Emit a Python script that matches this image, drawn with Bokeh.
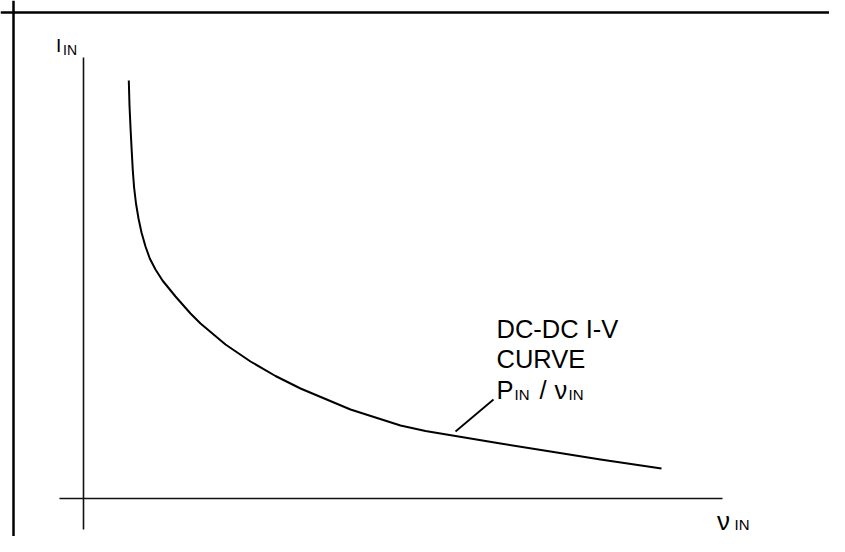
from bokeh.plotting import figure
from bokeh.models import Range1d, Span, Label
from bokeh.embed import file_html
from bokeh.resources import INLINE

# DC-DC I-V curve (I_IN = P_IN / v_IN) (arbitrary units)
v_in = [4.53, 4.6, 4.7, 4.82, 4.93, 5.06, 5.25, 5.5, 5.8, 6.2, 6.63, 7.2, 7.9,
        9.2, 10.7, 11.7, 14.2, 16.7, 19.2, 21.7, 26.7, 31.7, 34.2, 37.2, 41.7,
        46.7, 51.7, 57.8]
i_in = [41.8, 39.3, 37.1, 34.8, 32.8, 31.1, 29.5, 28.0, 26.6, 25.2, 24.0, 22.9, 21.8,
        20.2, 18.5, 17.5, 15.4, 13.7, 12.25, 11.0, 8.9, 7.3, 6.75, 6.25, 5.5,
        4.7, 3.9, 3.0]

# axis extents
v_axis = [-2.4, 63.9]
i_axis = [-3.1, 44.1]

# leader line from curve to annotation
leader_v = [37.2, 41.0]
leader_i = [6.7, 9.9]

FONT = "Liberation Sans"

p = figure(width=829, height=536, output_backend="svg", toolbar_location=None,
           x_range=Range1d(-8.3, 74.6), y_range=Range1d(-3.8, 49.8),
           x_axis_location=None, y_axis_location=None, min_border=0)
p.grid.visible = False
p.outline_line_color = None
p.background_fill_color = "white"
p.border_fill_color = "white"

# frame (top & left edges visible)
p.add_layout(Span(location=-7.0, dimension="height", line_color="black", line_width=2.5))
p.add_layout(Span(location=48.6, dimension="width", line_color="black", line_width=2.5))

# axes
p.line([0, 0], i_axis, line_color="#111111", line_width=1.6)
p.line(v_axis, [0, 0], line_color="#111111", line_width=1.6)

# curve
p.line(v_in, i_in, line_color="black", line_width=2, line_join="round")

# leader
p.line(leader_v, leader_i, line_color="black", line_width=1.8)

def lab(x, y, text, size):
    p.add_layout(Label(x=x, y=y, text=text, text_font=FONT, text_font_size=size,
                       text_color="black", text_baseline="alphabetic"))

# I_IN (y axis label)
lab(-2.75, 45.3, "I", "19px")
lab(-2.05, 44.9, "IN", "14px")

# v_IN (x axis label)
lab(63.35, -2.2, "\u03bd", "26px")
lab(65.1, -2.6, "IN", "15px")

# annotation
lab(41.3, 17.0, "DC-DC I-V", "25.5px")
lab(41.3, 14.0, "CURVE", "25.5px")
lab(41.3, 10.9, "P", "25.5px")
lab(43.1, 10.4, "IN", "15px")
lab(45.6, 10.9, "/", "25.5px")
lab(47.1, 10.9, "\u03bd", "25.5px")
lab(48.5, 10.4, "IN", "15px")

open("out.html", "w").write(file_html(p, INLINE))
